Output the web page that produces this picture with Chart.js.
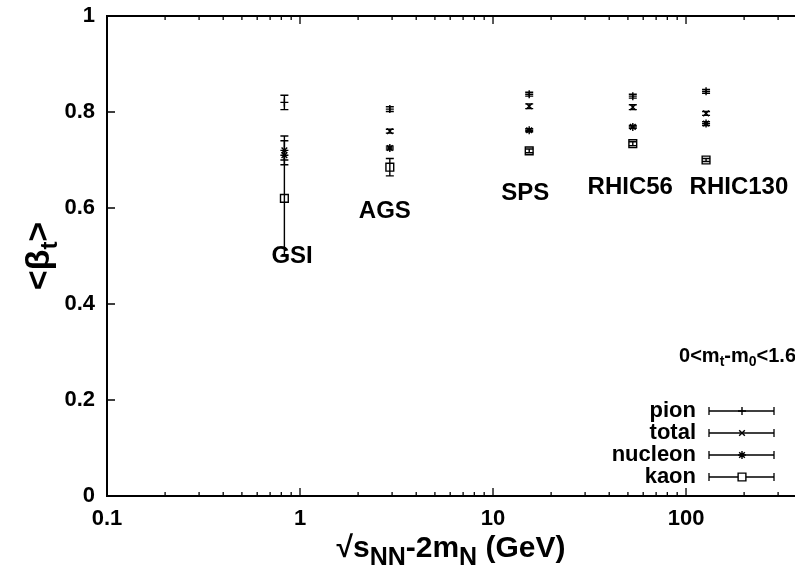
<!DOCTYPE html>
<html>
<head>
<meta charset="utf-8">
<script src="https://cdn.jsdelivr.net/npm/chart.js@4.4.0/dist/chart.umd.min.js"></script>
<style>
  html, body { margin: 0; padding: 0; background: #fff; }
</style>
</head>
<body>
<canvas id="chartCanvas" width="795" height="574"></canvas>
<script>
// --- data ---
const sites = ["GSI", "AGS", "SPS", "RHIC56", "RHIC130"];
const energies = [0.83, 2.92, 15.4, 53, 127];   // sqrt(s_NN) - 2 m_N (GeV)

const pionBeta    = [0.820, 0.806, 0.837, 0.833, 0.843];
const pionErr     = [0.015, 0.005, 0.004, 0.004, 0.004];
const totalBeta   = [0.720, 0.760, 0.812, 0.810, 0.797];
const totalErr    = [0.030, 0.004, 0.005, 0.005, 0.004];
const nucleonBeta = [0.710, 0.725, 0.762, 0.769, 0.776];
const nucleonErr  = [0.010, 0.004, 0.003, 0.003, 0.004];
const kaonBeta    = [0.620, 0.685, 0.719, 0.734, 0.700];
const kaonErr     = [0.120, 0.018, 0.004, 0.004, 0.003];

const xTickLabels = [0.1, 1, 10, 100];
const yTickLabels = [0, 0.2, 0.4, 0.6, 0.8, 1];

// where the site names sit (data coords)
const siteLabelX = [0.91, 2.75, 14.7, 51.4, 188];
const siteLabelY = [0.50, 0.594, 0.631, 0.642, 0.642];

const FONT = "'Liberation Sans', Arial, Helvetica, sans-serif";
const canvas = document.getElementById("chartCanvas");

function series(label, ys, errs, style, radius) {
  return {
    label,
    data: energies.map((e, i) => ({ x: e, y: ys[i], err: errs[i] })),
    pointStyle: style,
    pointRadius: radius,
    pointBorderColor: "#000",
    pointBackgroundColor: "rgba(0,0,0,0)",
    pointBorderWidth: 1.4,
    showLine: false
  };
}

const datasets = [
  series("pion", pionBeta, pionErr, "cross", 4),
  series("total", totalBeta, totalErr, "crossRot", 4),
  series("nucleon", nucleonBeta, nucleonErr, "star", 4),
  series("kaon", kaonBeta, kaonErr, "rect", 5.5)
];

// mixed normal/subscript text
function richText(ctx, parts, x, y, align, size, subScale) {
  const subSize = Math.round(size * (subScale || 0.72));
  let w = 0;
  parts.forEach(p => {
    ctx.font = `bold ${p.sub ? subSize : size}px ${FONT}`;
    p.w = ctx.measureText(p.t).width;
    w += p.w;
  });
  let cx = align === "right" ? x - w : align === "center" ? x - w / 2 : x;
  ctx.textBaseline = "middle";
  ctx.textAlign = "left";
  parts.forEach(p => {
    ctx.font = `bold ${p.sub ? subSize : size}px ${FONT}`;
    ctx.fillText(p.t, cx, p.sub ? y + size * 0.3 : y);
    cx += p.w;
  });
}

const decorPlugin = {
  id: "decor",
  beforeDatasetsDraw(chart) {
    const ctx = chart.ctx;
    const xs = chart.scales.x, ys = chart.scales.y;
    ctx.save();
    ctx.strokeStyle = "#000";
    ctx.lineWidth = 1.4;
    chart.data.datasets.forEach(ds => {
      ds.data.forEach(pt => {
        const px = xs.getPixelForValue(pt.x);
        const top = ys.getPixelForValue(pt.y + pt.err);
        const bot = ys.getPixelForValue(pt.y - pt.err);
        ctx.beginPath();
        ctx.moveTo(px, top); ctx.lineTo(px, bot);
        ctx.moveTo(px - 4, top); ctx.lineTo(px + 4, top);
        ctx.moveTo(px - 4, bot); ctx.lineTo(px + 4, bot);
        ctx.stroke();
      });
    });
    ctx.restore();
  },
  afterDraw(chart) {
    const ctx = chart.ctx;
    const a = chart.chartArea;
    const xs = chart.scales.x, ys = chart.scales.y;
    ctx.save();
    ctx.fillStyle = "#000";
    ctx.strokeStyle = "#000";

    // frame (right side falls off the canvas)
    ctx.lineWidth = 2;
    ctx.strokeRect(a.left, a.top, a.right - a.left + 4, a.bottom - a.top);

    // inward ticks
    ctx.lineWidth = 1.3;
    ctx.beginPath();
    xs.ticks.forEach(t => {
      const px = xs.getPixelForValue(t.value);
      const lg = Math.log10(t.value);
      const len = Math.abs(lg - Math.round(lg)) < 1e-9 ? 8 : 4;
      ctx.moveTo(px, a.bottom); ctx.lineTo(px, a.bottom - len);
      ctx.moveTo(px, a.top); ctx.lineTo(px, a.top + len);
    });
    ys.ticks.forEach(t => {
      const py = ys.getPixelForValue(t.value);
      ctx.moveTo(a.left, py); ctx.lineTo(a.left + 8, py);
    });
    ctx.stroke();

    // site names
    ctx.font = `bold 24px ${FONT}`;
    ctx.textAlign = "center";
    ctx.textBaseline = "middle";
    sites.forEach((s, i) => {
      ctx.fillText(s, xs.getPixelForValue(siteLabelX[i]), ys.getPixelForValue(siteLabelY[i]));
    });

    // cut note
    richText(ctx, [{ t: "0<m" }, { t: "t", sub: true }, { t: "-m" }, { t: "0", sub: true }, { t: "<1.6" }],
      796, 356, "right", 20, 0.7);

    // legend
    const rows = [
      ["pion", "cross"], ["total", "crossRot"], ["nucleon", "star"], ["kaon", "rect"]
    ];
    const rowY = [411, 433, 455, 477];
    rows.forEach((r, i) => {
      const y = rowY[i];
      ctx.font = `bold 22px ${FONT}`;
      ctx.textAlign = "right";
      ctx.textBaseline = "middle";
      ctx.fillStyle = "#000";
      ctx.fillText(r[0], 696, y);
      ctx.lineWidth = 1.3;
      ctx.beginPath();
      ctx.moveTo(709, y); ctx.lineTo(774, y);
      ctx.moveTo(709, y - 4); ctx.lineTo(709, y + 4);
      ctx.moveTo(774, y - 4); ctx.lineTo(774, y + 4);
      ctx.stroke();
      ctx.lineWidth = 1.4;
      ctx.fillStyle = "#fff";
      Chart.helpers.drawPoint(ctx, { pointStyle: r[1], radius: r[1] === "rect" ? 5.5 : 4, borderWidth: 1.4 }, 742, y);
    });
    ctx.fillStyle = "#000";

    // axis titles
    richText(ctx, [{ t: "\u221As" }, { t: "NN", sub: true }, { t: "-2m" }, { t: "N", sub: true }, { t: " (GeV)" }],
      (a.left + a.right) / 2, 549, "center", 30, 0.82);

    ctx.save();
    ctx.translate(40, (a.top + a.bottom) / 2);
    ctx.rotate(-Math.PI / 2);
    richText(ctx, [{ t: "<\u03B2" }, { t: "t", sub: true }, { t: ">" }], 0, 0, "center", 34, 0.7);
    ctx.restore();

    ctx.restore();
  }
};

new Chart(canvas, {
  type: "scatter",
  data: { datasets },
  plugins: [decorPlugin],
  options: {
    responsive: false,
    animation: false,
    layout: { autoPadding: false, padding: { top: 16, right: 0, left: 0, bottom: 0 } },
    plugins: { legend: { display: false }, tooltip: { enabled: false } },
    scales: {
      x: {
        type: "logarithmic",
        min: 0.1,
        max: 367,
        afterFit: s => { s.height = 78; s.paddingLeft = 0; s.paddingRight = 0; },
        afterBuildTicks: s => {
          const ticks = [];
          [0.1, 1, 10, 100].forEach(d => {
            for (let k = 1; k <= 9; k++) {
              const v = +(d * k).toPrecision(3);
              if (v <= s.max) ticks.push({ value: v });
            }
          });
          s.ticks = ticks;
        },
        grid: { display: false, drawTicks: false },
        border: { display: false },
        ticks: {
          autoSkip: false,
          maxRotation: 0,
          padding: 10,
          color: "#000",
          font: { family: FONT, size: 22, weight: "bold" },
          callback: v => xTickLabels.includes(v) ? String(v) : ""
        }
      },
      y: {
        min: 0,
        max: 1,
        afterFit: s => { s.width = 107; s.paddingTop = 0; s.paddingBottom = 0; },
        afterBuildTicks: s => { s.ticks = yTickLabels.map(v => ({ value: v })); },
        grid: { display: false, drawTicks: false },
        border: { display: false },
        ticks: {
          padding: 12,
          color: "#000",
          font: { family: FONT, size: 22, weight: "bold" },
          callback: v => String(+v.toFixed(1))
        }
      }
    }
  }
});
</script>
</body>
</html>
